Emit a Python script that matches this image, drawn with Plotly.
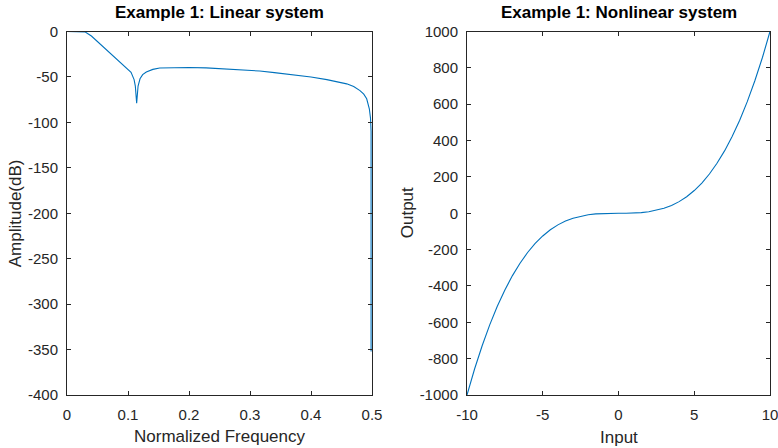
import plotly.graph_objects as go

# Left panel: frequency response (normalized frequency, amplitude dB)
freq = [0, 0.01, 0.02, 0.03, 0.04, 0.05, 0.06, 0.07, 0.08, 0.09, 0.10, 0.105,
        0.11, 0.112, 0.1142, 0.1165, 0.1197, 0.124, 0.13, 0.1407, 0.152, 0.17,
        0.2, 0.228, 0.26, 0.3, 0.316, 0.34, 0.371, 0.40, 0.426, 0.445, 0.4585,
        0.47, 0.4803, 0.4865, 0.4913, 0.4956, 0.4975, 0.4985, 0.4985]
amp_db = [0, 0, 0, -0.5, -5, -11, -17, -24, -30, -36, -41, -45,
          -53, -60, -79, -60, -52, -47.5, -44.6, -41.7, -40.2, -39.7,
          -39.6, -40.0, -41.0, -42.7, -43.5, -45.2, -47.6, -50.0, -53, -55.3, -57.6,
          -60.5, -65, -69, -74, -85, -95, -110, -352]

# Right panel: input/output of nonlinear system
inp = [-10, -9.5, -9, -8.5, -8, -7.5, -7, -6.5, -6, -5.5, -5, -4.5, -4, -3.5, -3,
       -2.5, -2, -1.5, -1, -0.5, 0, 0.5, 1, 1.5, 2, 2.5, 3, 3.5, 4, 4.5, 5, 5.5,
       6, 6.5, 7, 7.5, 8, 8.5, 9, 9.5, 10]
out = [-1000, -857, -729, -614, -512, -422, -343, -275, -216, -166, -125, -91,
       -64, -43, -27, -16, -8, -3.4, -1, -0.1, 0, 0.1, 1, 3.4, 8, 16, 27, 43, 64,
       91, 125, 166, 216, 275, 343, 422, 512, 614, 729, 857, 1000]

x_ticks_left = [0, 0.1, 0.2, 0.3, 0.4, 0.5]
y_ticks_left = [0, -50, -100, -150, -200, -250, -300, -350, -400]
x_ticks_right = [-10, -5, 0, 5, 10]
y_ticks_right = [1000, 800, 600, 400, 200, 0, -200, -400, -600, -800, -1000]

W, H = 778, 448
FONT = "Liberation Sans, Arial, Helvetica, sans-serif"
LINE_COLOR = "#0072BD"
AX_COLOR = "#262626"
TXT_COLOR = "#262626"

fig = go.Figure()
fig.add_trace(go.Scatter(x=freq, y=amp_db, mode="lines",
                         line=dict(color=LINE_COLOR, width=1.1),
                         xaxis="x", yaxis="y", showlegend=False))
fig.add_trace(go.Scatter(x=inp, y=out, mode="lines",
                         line=dict(color=LINE_COLOR, width=1.1),
                         xaxis="x2", yaxis="y2", showlegend=False))

L1, R1 = 67, 372
L2, R2 = 467, 770
TOP, BOT = 31.5, 395

def px(v):
    return v / W

def py(v):
    return 1 - v / H

def lab(vals):
    return [str(v) for v in vals]

common = dict(showgrid=False, zeroline=False, showline=True, linecolor=AX_COLOR,
              linewidth=1, mirror="ticks", ticks="inside", ticklen=4,
              tickcolor=AX_COLOR, tickwidth=1, automargin=False,
              ticklabeloverflow="allow",
              tickfont=dict(family=FONT, size=15, color=TXT_COLOR))

fig.update_layout(
    width=W, height=H,
    margin=dict(l=0, r=0, t=0, b=0),
    paper_bgcolor="white", plot_bgcolor="white",
    xaxis=dict(domain=[px(L1), px(R1)], range=[0, 0.5], tickvals=x_ticks_left,
               ticktext=lab(x_ticks_left), anchor="y",
               ticklabelstandoff=6, **common),
    yaxis=dict(domain=[py(BOT), py(TOP)], range=[-400, 0], tickvals=y_ticks_left,
               ticktext=lab(y_ticks_left), anchor="x", ticklabelstandoff=5, **common),
    xaxis2=dict(domain=[px(L2), px(R2)], range=[-10, 10], tickvals=x_ticks_right,
                ticktext=lab(x_ticks_right), anchor="y2", ticklabelstandoff=6, **common),
    yaxis2=dict(domain=[py(BOT), py(TOP)], range=[-1000, 1000], tickvals=y_ticks_right,
                ticktext=lab(y_ticks_right), anchor="x2", ticklabelstandoff=5, **common),
)

ann = []
ann.append(dict(text="<b>Example 1: Linear system</b>", x=px((L1 + R1) / 2), y=py(13),
                xref="paper", yref="paper", showarrow=False,
                font=dict(family=FONT, size=17, color="black"),
                xanchor="center", yanchor="middle"))
ann.append(dict(text="<b>Example 1: Nonlinear system</b>", x=px((L2 + R2) / 2), y=py(13),
                xref="paper", yref="paper", showarrow=False,
                font=dict(family=FONT, size=17, color="black"),
                xanchor="center", yanchor="middle"))
ann.append(dict(text="Normalized Frequency", x=px((L1 + R1) / 2), y=py(436),
                xref="paper", yref="paper", showarrow=False,
                font=dict(family=FONT, size=17, color=TXT_COLOR),
                xanchor="center", yanchor="middle"))
ann.append(dict(text="Input", x=px((L2 + R2) / 2), y=py(437),
                xref="paper", yref="paper", showarrow=False,
                font=dict(family=FONT, size=17, color=TXT_COLOR),
                xanchor="center", yanchor="middle"))
ann.append(dict(text="Amplitude(dB)", x=px(15), y=py((TOP + BOT) / 2),
                xref="paper", yref="paper", showarrow=False, textangle=-90,
                font=dict(family=FONT, size=17, color=TXT_COLOR),
                xanchor="center", yanchor="middle"))
ann.append(dict(text="Output", x=px(407), y=py((TOP + BOT) / 2),
                xref="paper", yref="paper", showarrow=False, textangle=-90,
                font=dict(family=FONT, size=17, color=TXT_COLOR),
                xanchor="center", yanchor="middle"))
fig.update_layout(annotations=ann)

fig.write_html("out.html")
